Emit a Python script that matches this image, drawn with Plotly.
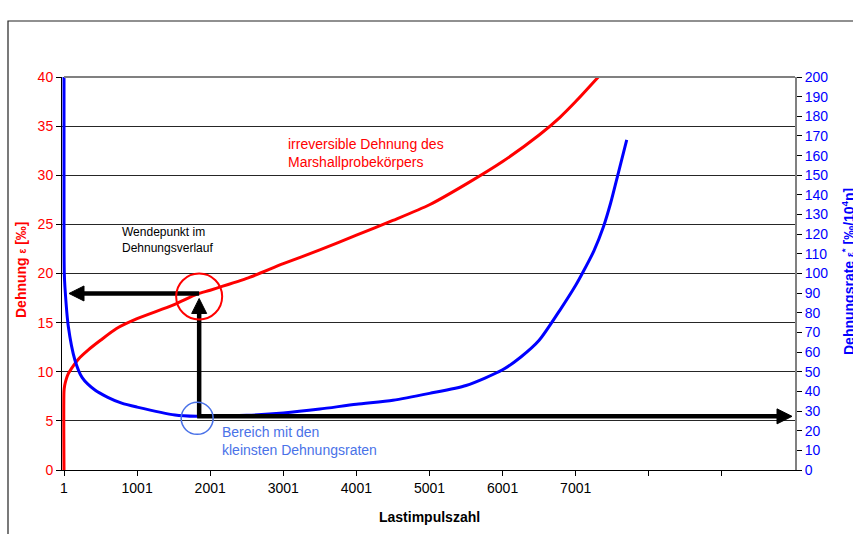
import numpy as np
import plotly.graph_objects as go

# Load cycles vs. irreversible strain of the Marshall specimen (left axis, ‰)
n_strain = [1, 1, 10, 30, 60, 100, 200, 330, 500, 720, 1001, 1500, 1820, 2001, 2500,
            3001, 3500, 4001, 4500, 5001, 5501, 6001, 6501, 6786, 7001, 7310]
strain = [0.0, 8.0, 8.6, 9.2, 9.8, 10.3, 11.3, 12.2, 13.2, 14.4, 15.4, 16.8, 17.9, 18.3, 19.5,
          21.0, 22.4, 23.9, 25.4, 27.0, 29.1, 31.4, 34.1, 35.9, 37.5, 40.0]

# Load cycles vs. strain rate (right axis, ‰/10^4 n)
n_rate = [1, 1, 5, 14, 60, 150, 250, 424, 600, 790, 1001, 1519, 1820, 2001, 2501, 3001,
          3501, 4001, 4501, 5001, 5501, 6001, 6251, 6501, 6786, 7001, 7105, 7250, 7378,
          7480, 7583, 7699]
rate = [200, 120, 100, 93, 73, 56, 47, 40.7, 37, 34, 32, 28, 27.3, 27.3, 27.8, 29,
        31, 33.5, 35.5, 39, 43, 51, 57.5, 66, 81.4, 94, 101, 111.5, 123.5, 136, 151, 168]

x_tickvals = [1, 1001, 2001, 3001, 4001, 5001, 6001, 7001, 8001, 9001]
x_ticktext = ["1", "1001", "2001", "3001", "4001", "5001", "6001", "7001", "", ""]
y_left_ticks = list(range(0, 45, 5))
y_right_ticks = list(range(0, 210, 10))

# Figure geometry
W, H = 853, 534
ML, MR, MT, MB = 62, 58, 77, 64
PW, PH = W - ML - MR, H - MT - MB
X_RANGE = [-26.4, 10001]
Y_RANGE = [0, 40]
Y2_RANGE = [0, 200]

RED = "#ff0000"
BLUE = "#0000ff"
LIGHT_BLUE = "#4a72e8"
FONT = "Liberation Sans, Arial, sans-serif"


def dx(px):
    return px * (X_RANGE[1] - X_RANGE[0]) / PW


def dy(px):
    return px * (Y_RANGE[1] - Y_RANGE[0]) / PH


def paper_x(px):
    return (px - ML) / PW


def paper_y(py):
    return (H - MB - py) / PH


fig = go.Figure()
fig.add_trace(go.Scatter(x=n_strain, y=strain, mode="lines",
                         line=dict(color=RED, width=3, shape="spline", smoothing=0.7),
                         yaxis="y", showlegend=False))
fig.add_trace(go.Scatter(x=n_rate, y=rate, mode="lines",
                         line=dict(color=BLUE, width=3, shape="spline", smoothing=0.7),
                         yaxis="y2", showlegend=False))

# Inflection point of the strain curve and the minimum strain rate
n_wende = 1850
eps_wende = float(np.interp(n_wende, n_strain, strain))
rate_min_left = float(np.interp(n_wende, n_rate, rate)) * Y_RANGE[1] / Y2_RANGE[1]

shapes = []
ARROW_W = 4.5
HEAD_L, HEAD_HW = 15, 7.5


def head(tip_x, tip_y, direction):
    if direction == "left":
        bx = tip_x + dx(HEAD_L)
        pts = [(tip_x, tip_y), (bx, tip_y + dy(HEAD_HW)), (bx, tip_y - dy(HEAD_HW))]
    elif direction == "right":
        bx = tip_x - dx(HEAD_L)
        pts = [(tip_x, tip_y), (bx, tip_y + dy(HEAD_HW)), (bx, tip_y - dy(HEAD_HW))]
    else:  # up
        by = tip_y - dy(HEAD_L)
        pts = [(tip_x, tip_y), (tip_x - dx(HEAD_HW), by), (tip_x + dx(HEAD_HW), by)]
    path = "M {} {} L {} {} L {} {} Z".format(*[v for p in pts for v in p])
    return dict(type="path", path=path, xref="x", yref="y", fillcolor="black",
                line=dict(color="black", width=1), layer="above")


def seg(x0, y0, x1, y1):
    return dict(type="line", x0=x0, y0=y0, x1=x1, y1=y1, xref="x", yref="y",
                line=dict(color="black", width=ARROW_W), layer="above")


# arrow from the inflection point to the strain axis
left_tip = 1 + dx(5)
shapes.append(seg(n_wende, eps_wende, left_tip + dx(HEAD_L - 1), eps_wende))
shapes.append(head(left_tip, eps_wende, "left"))
# arrow from the minimum rate up to the inflection point
up_tip = eps_wende - dy(5)
shapes.append(seg(n_wende, rate_min_left, n_wende, up_tip - dy(HEAD_L - 1)))
shapes.append(head(n_wende, up_tip, "up"))
# arrow along the minimum rate to the rate axis
right_tip = X_RANGE[1] - dx(3)
shapes.append(seg(n_wende - dx(2), rate_min_left, right_tip - dx(HEAD_L - 1), rate_min_left))
shapes.append(head(right_tip, rate_min_left, "right"))

# circles
r_red = 23
cy_red = eps_wende - dy(3)
shapes.append(dict(type="circle", xref="x", yref="y",
                   x0=n_wende - dx(r_red), x1=n_wende + dx(r_red),
                   y0=cy_red - dy(r_red), y1=cy_red + dy(r_red),
                   line=dict(color=RED, width=2), layer="above"))
r_blue = 16
cx_blue = n_wende - dx(2)
cy_blue = rate_min_left - dy(2)
shapes.append(dict(type="circle", xref="x", yref="y",
                   x0=cx_blue - dx(r_blue), x1=cx_blue + dx(r_blue),
                   y0=cy_blue - dy(r_blue), y1=cy_blue + dy(r_blue),
                   line=dict(color=LIGHT_BLUE, width=1.5), layer="above"))

# plot-area top border and outer chart frame
shapes.append(dict(type="line", xref="paper", yref="paper", x0=paper_x(64), x1=1, y0=1, y1=1,
                   line=dict(color="#808080", width=2), layer="above"))
shapes.append(dict(type="rect", xref="paper", yref="paper",
                   x0=paper_x(8), x1=paper_x(870), y0=paper_y(560), y1=paper_y(21),
                   line=dict(color="#222222", width=1.2), layer="below"))

annotations = [
    dict(text="irreversible Dehnung des<br>Marshallprobekörpers", x=3000, y=32.3,
         xref="x", yref="y", xanchor="left", yanchor="middle", align="left",
         showarrow=False, font=dict(family=FONT, size=14, color=RED),
         bgcolor="white", borderpad=4),
    dict(text="Wendepunkt im<br>Dehnungsverlauf", x=770, y=23.4,
         xref="x", yref="y", xanchor="left", yanchor="middle", align="left",
         showarrow=False, font=dict(family=FONT, size=12, color="black")),
    dict(text="Bereich mit den<br>kleinsten Dehnungsraten", x=2140, y=3.0,
         xref="x", yref="y", xanchor="left", yanchor="middle", align="left",
         showarrow=False, font=dict(family=FONT, size=14, color=LIGHT_BLUE)),
    dict(text="<b>Lastimpulszahl</b>", x=paper_x(429.5), y=paper_y(517),
         xref="paper", yref="paper", xanchor="center", yanchor="middle",
         showarrow=False, font=dict(family=FONT, size=14, color="black")),
    dict(text="<b>Dehnung <span style='font-size:10px'>ε</span> [‰]</b>",
         x=paper_x(21), y=paper_y(270), xref="paper", yref="paper",
         xanchor="center", yanchor="middle", textangle=-90,
         showarrow=False, font=dict(family=FONT, size=14, color=RED)),
    dict(text="<b>Dehnungsrate <span style='font-size:10px'>ε</span><sup>*</sup> [‰/10<sup>4</sup>n]</b>",
         x=paper_x(848), y=paper_y(272), xref="paper", yref="paper",
         xanchor="center", yanchor="middle", textangle=-90,
         showarrow=False, font=dict(family=FONT, size=14, color=BLUE)),
]

fig.update_layout(
    width=W, height=H,
    margin=dict(l=ML, r=MR, t=MT, b=MB, pad=0),
    paper_bgcolor="white", plot_bgcolor="white",
    font=dict(family=FONT, size=14, color="black"),
    showlegend=False,
    xaxis=dict(range=X_RANGE, tickmode="array", tickvals=x_tickvals, ticktext=x_ticktext,
               ticks="outside", ticklen=5, tickwidth=1, tickcolor="black",
               showline=True, linecolor="black", linewidth=1, showgrid=False,
               zeroline=False, tickfont=dict(family=FONT, size=14, color="black"),
               layer="below traces"),
    yaxis=dict(range=Y_RANGE, tickmode="array", tickvals=y_left_ticks,
               ticks="outside", ticklen=5, tickwidth=1, tickcolor="black",
               showline=True, linecolor="black", linewidth=1,
               showgrid=True, gridcolor="#262626", gridwidth=1, zeroline=False,
               tickfont=dict(family=FONT, size=14, color=RED), layer="below traces"),
    yaxis2=dict(range=Y2_RANGE, tickmode="array", tickvals=y_right_ticks,
                overlaying="y", side="right", anchor="x",
                ticks="outside", ticklen=5, tickwidth=1, tickcolor="black",
                showline=True, linecolor="#808080", linewidth=2, showgrid=False,
                zeroline=False, tickfont=dict(family=FONT, size=14, color=BLUE)),
    yaxis3=dict(range=Y2_RANGE, tickmode="array", tickvals=y_right_ticks,
                overlaying="y", side="right", anchor="x",
                ticks="inside", ticklen=5, tickwidth=1, tickcolor="black",
                showticklabels=False, showline=False, showgrid=False, zeroline=False),
    shapes=shapes,
    annotations=annotations,
)

fig.write_html("out.html")
